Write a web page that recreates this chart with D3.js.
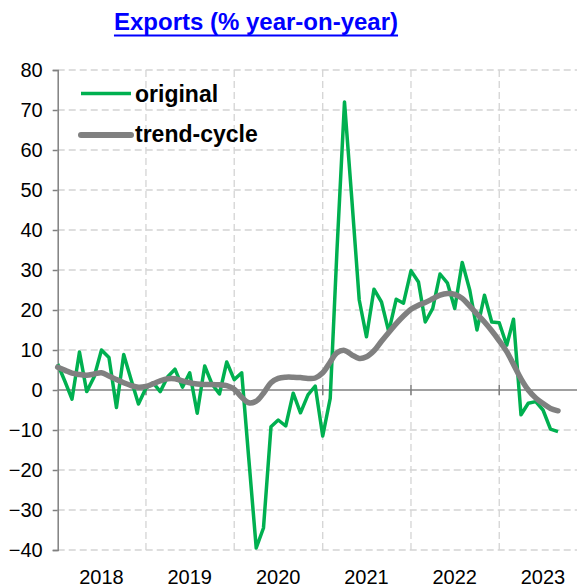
<!DOCTYPE html>
<html>
<head>
<meta charset="utf-8">
<script src="https://cdn.jsdelivr.net/npm/d3@7"></script>
<style>
  html, body { margin: 0; padding: 0; background: #fff; }
  svg { display: block; font-family: "Liberation Sans", Arial, sans-serif; }
</style>
</head>
<body>
<svg id="chart" width="577" height="588"></svg>
<script>
// ---- data ----
const title = "Exports (% year-on-year)";
const firstMonth = "2018-01";
const lastMonth = "2023-09";
const original = [
  6.5, 2.0, -2.3, 9.5, -0.4, 3.3, 10.0, 8.1, -4.4, 8.9, 2.5, -3.5,
  0.5, 1.7, -0.4, 3.3, 5.2, 0.7, 4.3, -5.8, 6.0, 1.5, -1.0, 7.0,
  2.6, 4.3, -17.0, -39.5, -34.5, -9.2, -7.5, -9.0, -0.8, -5.7, -1.2, 1.0,
  -11.5, -2.1, 35.0, 72.0, 48.0, 22.5, 13.3, 25.2, 22.0, 14.6, 22.7, 21.7,
  29.8, 27.0, 17.0, 20.4, 29.0, 26.7, 20.4, 31.9, 25.0, 15.0, 23.7, 17.0,
  16.8, 11.2, 17.7, -6.2, -3.3, -2.9, -5.0, -9.8, -10.4
];
const trend = [
  5.7, 4.9, 4.2, 3.9, 3.7, 4.0, 4.3, 3.5, 2.6, 1.8, 1.1, 0.7,
  0.9, 1.6, 2.3, 2.8, 2.8, 2.3, 1.8, 1.5, 1.4, 1.4, 1.3, 1.1,
  0.2, -1.8, -3.2, -2.8, -0.8, 1.8, 2.9, 3.2, 3.2, 3.1, 2.9, 3.0,
  4.3, 7.0, 9.3, 9.9, 8.8, 7.9, 8.3, 9.8, 12.2, 14.4, 16.6, 18.5,
  20.2, 21.2, 21.9, 22.8, 23.7, 24.1, 23.9, 22.9, 21.0, 19.0, 17.0, 14.8,
  12.3, 9.6, 6.4, 2.8, 0.0, -2.0, -3.4, -4.6, -5.2
];
const yTicks = [-40, -30, -20, -10, 0, 10, 20, 30, 40, 50, 60, 70, 80];
const yearLabels = ["2018", "2019", "2020", "2021", "2022", "2023"];
const legendLabels = ["original", "trend-cycle"];

// ---- layout ----
const svg = d3.select("#chart");
const parseMonth = d3.timeParse("%Y-%m");
const months = d3.timeMonth.range(parseMonth(firstMonth), d3.timeMonth.offset(parseMonth(lastMonth), 1));

const plotLeft = 57.7, plotRight = 587.5, plotTop = 70, plotBottom = 550;
const x = d3.scaleTime()
  .domain([new Date(2018, 0, 1), new Date(2024, 0, 1)])
  .range([plotLeft, plotRight]);
const y = d3.scaleLinear().domain([-40, 80]).range([plotBottom, plotTop]);

const gridColor = "#d4d4d4";
const axisColor = "#808080";

// horizontal gridlines
svg.append("g").selectAll("line")
  .data(yTicks.filter(d => d !== 0))
  .join("line")
  .attr("x1", plotLeft).attr("x2", 577)
  .attr("y1", d => y(d)).attr("y2", d => y(d))
  .attr("stroke", gridColor).attr("stroke-width", 1.3)
  .attr("stroke-dasharray", "7,4");

// vertical gridlines at year boundaries
const yearStarts = yearLabels.map(s => new Date(+s, 0, 1));
svg.append("g").selectAll("line")
  .data(yearStarts.slice(1))
  .join("line")
  .attr("x1", d => x(d)).attr("x2", d => x(d))
  .attr("y1", plotTop).attr("y2", plotBottom)
  .attr("stroke", gridColor).attr("stroke-width", 1.3)
  .attr("stroke-dasharray", "7,4");

// y axis
const yAxis = d3.axisLeft(y).tickValues(yTicks).tickSize(5).tickPadding(10).tickFormat(d3.format("d"));
const gy = svg.append("g").attr("transform", `translate(${plotLeft},0)`).call(yAxis);
gy.select(".domain").attr("stroke", axisColor).attr("stroke-width", 1.5);
gy.selectAll(".tick line").attr("stroke", axisColor).attr("stroke-width", 1.5);
gy.selectAll(".tick text")
  .attr("font-size", 20).attr("fill", "#000")
  .attr("font-family", "'Liberation Sans', Arial, sans-serif");

// zero line (x axis) with year ticks
svg.append("line")
  .attr("x1", plotLeft).attr("x2", 577)
  .attr("y1", y(0)).attr("y2", y(0))
  .attr("stroke", axisColor).attr("stroke-width", 1.5);
svg.append("g").selectAll("line")
  .data(yearStarts.slice(1))
  .join("line")
  .attr("x1", d => x(d)).attr("x2", d => x(d))
  .attr("y1", y(0) - 5).attr("y2", y(0) + 5)
  .attr("stroke", axisColor).attr("stroke-width", 1.5);

// year labels at the bottom
svg.append("g").selectAll("text")
  .data(yearLabels)
  .join("text")
  .attr("x", d => x(new Date(+d, 6, 1)))
  .attr("y", 584)
  .attr("text-anchor", "middle")
  .attr("font-size", 20)
  .attr("fill", "#000")
  .text(d => d);

// series
const lineOrig = d3.line().x((d, i) => x(months[i])).y(d => y(d));
const lineTrend = d3.line().x((d, i) => x(months[i])).y(d => y(d)).curve(d3.curveCatmullRom.alpha(0.5));

svg.append("path")
  .datum(original)
  .attr("d", lineOrig)
  .attr("fill", "none")
  .attr("stroke", "#00b050")
  .attr("stroke-width", 3.5)
  .attr("stroke-linejoin", "round");

svg.append("path")
  .datum(trend)
  .attr("d", lineTrend)
  .attr("fill", "none")
  .attr("stroke", "#808080")
  .attr("stroke-width", 5.5)
  .attr("stroke-linecap", "round")
  .attr("stroke-linejoin", "round");

// legend
const legend = svg.append("g");
legend.append("line")
  .attr("x1", 81).attr("x2", 131).attr("y1", 93.5).attr("y2", 93.5)
  .attr("stroke", "#00b050").attr("stroke-width", 3.5);
legend.append("text")
  .attr("x", 135).attr("y", 101.5)
  .attr("font-size", 23).attr("font-weight", "bold").attr("fill", "#000")
  .text(legendLabels[0]);
legend.append("line")
  .attr("x1", 81).attr("x2", 131).attr("y1", 135).attr("y2", 135)
  .attr("stroke", "#808080").attr("stroke-width", 6).attr("stroke-linecap", "round");
legend.append("text")
  .attr("x", 135).attr("y", 142)
  .attr("font-size", 23).attr("font-weight", "bold").attr("fill", "#000")
  .text(legendLabels[1]);

// title with solid underline
const titleText = svg.append("text")
  .attr("x", 256).attr("y", 30)
  .attr("text-anchor", "middle")
  .attr("font-size", 24).attr("font-weight", "bold")
  .attr("fill", "#0000ff")
  .text(title);
const tb = titleText.node().getBBox();
svg.append("line")
  .attr("x1", tb.x).attr("x2", tb.x + tb.width)
  .attr("y1", 35.5).attr("y2", 35.5)
  .attr("stroke", "#0000ff").attr("stroke-width", 2.2);
</script>
</body>
</html>
